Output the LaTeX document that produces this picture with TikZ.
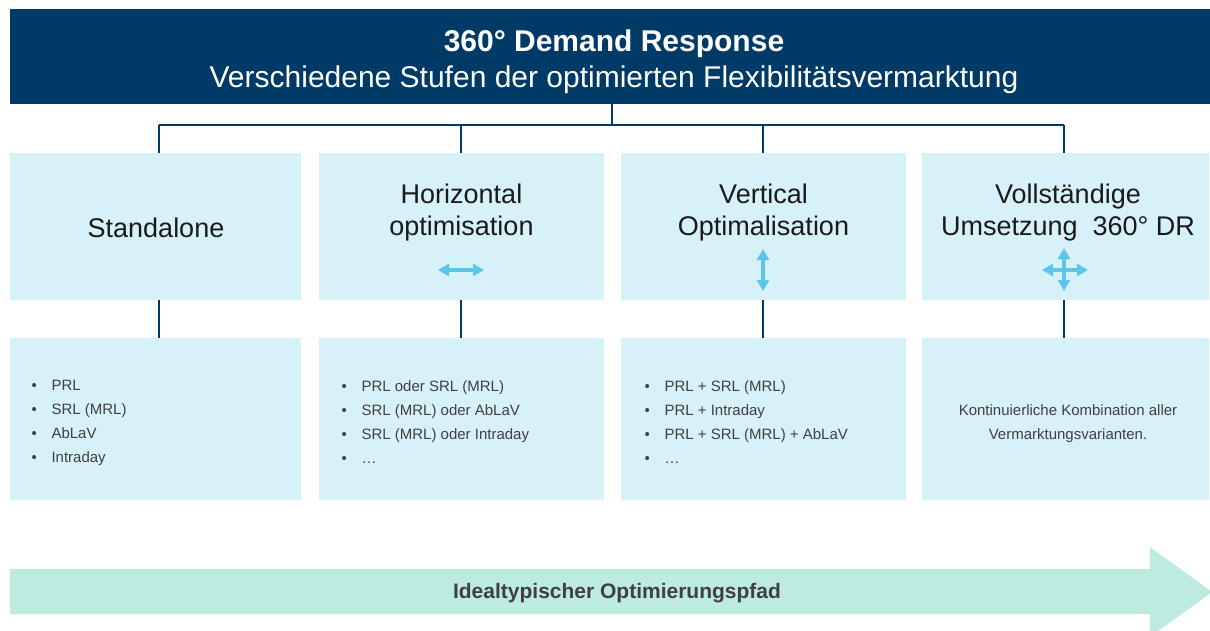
\documentclass[tikz,border=0pt]{standalone}
\usepackage{fontspec}
\setmainfont{Liberation Sans}
\usetikzlibrary{positioning}
\usetikzlibrary{arrows.meta}

\definecolor{navy}{HTML}{003A66}
\definecolor{boxblue}{HTML}{D7F1F9}
\definecolor{iconblue}{HTML}{5DC6E8}
\definecolor{mint}{HTML}{BEEBE0}
\definecolor{darktext}{HTML}{1A1A1A}
\definecolor{graytext}{HTML}{404040}

\newcommand{\bul}[1]{\makebox[20pt][l]{\textbullet}#1}

\begin{document}
\begin{tikzpicture}[x=1pt, y=-1pt,
    stage/.style={draw=none, fill=boxblue, minimum height=147pt, inner sep=0pt},
    detail/.style={draw=none, fill=boxblue, minimum height=162pt, inner sep=0pt},
    title/.style={text=darktext, font=\fontsize{27}{32}\selectfont, align=center},
    items/.style={text=graytext, font=\fontsize{15}{24}\selectfont, align=left, anchor=north west},
    tree/.style={draw=navy, line width=1.8pt},
    icon/.style={draw=iconblue, line width=4pt, {Triangle[width=12pt,length=11pt]}-{Triangle[width=12pt,length=11pt]}}]

\useasboundingbox (0,0) rectangle (1210,631);

% Header
\node[fill=navy, minimum width=1200pt, minimum height=95pt, inner sep=0pt] (hdr) at (610,56.5) {};
\node[text=white, font=\bfseries\fontsize{30}{34}\selectfont] (hdrtitle) at (614,44) {360° Demand Response};
\node[text=white, font=\fontsize{30}{34}\selectfont] (hdrsub) at (614,80) {Verschiedene Stufen der optimierten Flexibilitätsvermarktung};

% Stage boxes and detail boxes
\foreach \i/\x/\w in {1/155.5/291, 2/461.5/285, 3/763.5/285, 4/1065.5/287} {
    \node[stage, minimum width=\w pt] (top\i) at (\x,226.5) {};
    \node[detail, minimum width=\w pt] (bot\i) at (\x,419) {};
}

% Tree connections
\coordinate (hub) at (612,125);
\foreach \i/\x in {1/159, 2/461, 3/763, 4/1064} {
    \coordinate (j\i) at (\x,125);
}
\draw[tree] (hub |- hdr.south) -- (hub);
\draw[tree] (j1) -- (j4);
\foreach \i in {1,...,4} {
    \draw[tree] (j\i) -- (j\i |- top\i.north);
    \draw[tree] (j\i |- top\i.south) -- (j\i |- bot\i.north);
}

% Stage titles
\node[title] (t1) at (156,228) {Standalone};
\node[title] (t2) at (461.5,213) {Horizontal\\optimisation};
\node[title] (t3) at (763.5,213) {Vertical\\Optimalisation};
\node[title] (t4) at (1068,213) {Vollständige\\Umsetzung~~360° DR};

% Icons
\draw[icon] (438,270) -- (484,270);
\draw[icon] (763,249) -- (763,291);
\draw[icon] (1042,270) -- (1088,270);
\draw[icon] (1064,248) -- (1064,291);

% Detail texts
\node[items] (l1) at (28,377) {\bul{PRL}\\\bul{SRL (MRL)}\\\bul{AbLaV}\\\bul{Intraday}};
\node[items] (l2) at (338,377) {\bul{PRL oder SRL (MRL)}\\\bul{SRL (MRL) oder AbLaV}\\\bul{SRL (MRL) oder Intraday}\\\bul{…}};
\node[items] (l3) at (641,377) {\bul{PRL + SRL (MRL)}\\\bul{PRL + Intraday}\\\bul{PRL + SRL (MRL) + AbLaV}\\\bul{…}};
\node[text=graytext, font=\fontsize{15}{24}\selectfont, align=center] (l4) at (1068,424) {Kontinuierliche Kombination aller\\Vermarktungsvarianten.};

% Optimisation path arrow
\fill[mint] (10,569) -- (1150,569) -- (1150,547) -- (1212,592) -- (1150,637) -- (1150,614) -- (10,614) -- cycle;
\node[text=graytext, font=\bfseries\fontsize{21}{24}\selectfont] (path) at (617,593) {Idealtypischer Optimierungspfad};

\end{tikzpicture}
\end{document}
